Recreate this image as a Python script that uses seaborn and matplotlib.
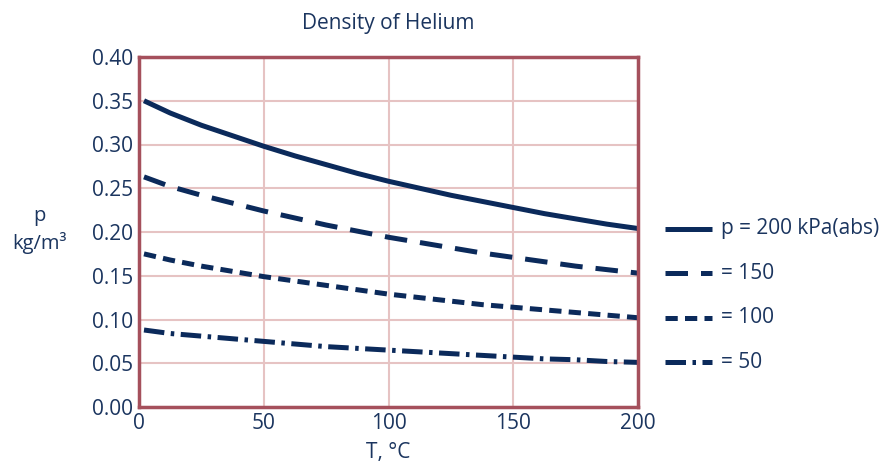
import matplotlib
matplotlib.use("Agg")
import matplotlib.pyplot as plt
import matplotlib.transforms as mtransforms
import seaborn as sns
import pandas as pd

temps = [2, 12.5, 25, 37.5, 50, 62.5, 75, 87.5, 100, 112.5, 125, 137.5,
         150, 162.5, 175, 187.5, 200]
rho_200 = [0.350, 0.336, 0.322, 0.310, 0.298, 0.287, 0.277, 0.267, 0.258,
           0.250, 0.242, 0.235, 0.228, 0.221, 0.215, 0.209, 0.204]
rho_150 = [0.263, 0.252, 0.242, 0.233, 0.224, 0.216, 0.208, 0.201, 0.194,
           0.188, 0.182, 0.176, 0.171, 0.166, 0.161, 0.157, 0.153]
rho_100 = [0.175, 0.168, 0.161, 0.155, 0.149, 0.144, 0.139, 0.134, 0.129,
           0.125, 0.121, 0.117, 0.114, 0.111, 0.108, 0.105, 0.102]
rho_50 = [0.088, 0.084, 0.081, 0.078, 0.075, 0.072, 0.069, 0.067, 0.065,
          0.063, 0.061, 0.059, 0.057, 0.055, 0.054, 0.052, 0.051]
labels = ["p = 200 kPa(abs)", "= 150", "= 100", "= 50"]
xticks = [0, 50, 100, 150, 200]
yticks = [0.00, 0.05, 0.10, 0.15, 0.20, 0.25, 0.30, 0.35, 0.40]

navy = "#0b2a5b"
text_c = "#1b355f"
frame_c = "#a5505c"
grid_c = "#e6c3c3"

sns.set_theme(style="white")
plt.rcParams["font.family"] = ["Open Sans", "DejaVu Sans"]

fig = plt.figure(figsize=(8.94, 4.72), dpi=100)
ax = fig.add_axes([139 / 894, 65 / 472, (638 - 139) / 894, (407 - 57) / 472])

series = [rho_200, rho_150, rho_100, rho_50]
dash_styles = [None, (4.5, 2.6), (2.45, 1.45), (4.1, 1.3, 0.7, 1.3)]
lw = 3.6

for vals, lab, ds in zip(series, labels, dash_styles):
    df = pd.DataFrame({"T": temps, "rho": vals})
    sns.lineplot(data=df, x="T", y="rho", ax=ax, color=navy, linewidth=lw)
    line = ax.lines[-1]
    if ds is not None:
        line.set_dashes(ds)
    line.set_solid_capstyle("butt")
    line.set_dash_capstyle("butt")

# legend entries aligned with line ends
trans = mtransforms.blended_transform_factory(ax.transAxes, ax.transData)
for vals, lab, ds in zip(series, labels, dash_styles):
    yv = vals[-1]
    l, = ax.plot([1.054, 1.148], [yv, yv], transform=trans, clip_on=False,
                 color=navy, linewidth=lw)
    if ds is not None:
        l.set_dashes(ds)
    l.set_solid_capstyle("butt")
    l.set_dash_capstyle("butt")
    ax.text(1.166, yv, lab, transform=trans, va="center", ha="left",
            fontsize=15, color=text_c)

ax.set_xlim(0, 200)
ax.set_ylim(0, 0.40)
ax.set_xticks(xticks)
ax.set_yticks(yticks)
ax.set_xticklabels([str(t) for t in xticks])
ax.set_yticklabels([f"{t:.2f}" for t in yticks])
ax.tick_params(axis="both", length=0, labelsize=15, labelcolor=text_c, pad=4)
ax.grid(True, color=grid_c, linewidth=1.5)
ax.set_axisbelow(True)
for sp in ax.spines.values():
    sp.set_color(frame_c)
    sp.set_linewidth(2.5)
    sp.set_visible(True)

ax.set_xlabel("T, °C", fontsize=15, color=text_c, labelpad=6)
ax.set_ylabel("")
fig.text(39 / 894, 1 - 230 / 472, "p\nkg/m³", ha="center", va="center",
         fontsize=14.5, color=text_c, linespacing=1.35)
ax.set_title("Density of Helium", fontsize=15, color=text_c, pad=20)

fig.savefig("out.png", dpi=100)
